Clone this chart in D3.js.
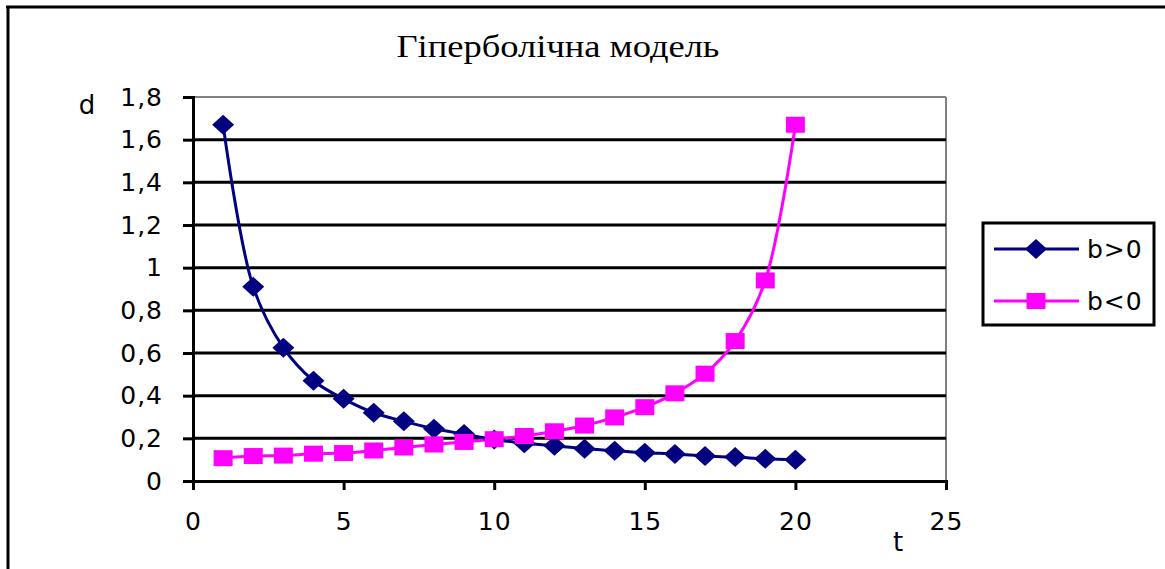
<!DOCTYPE html>
<html>
<head>
<meta charset="utf-8">
<script src="https://cdn.jsdelivr.net/npm/d3@7"></script>
<style>
  html, body { margin: 0; padding: 0; background: #fff; }
  svg { display: block; }
</style>
</head>
<body>
<script>
// Time steps and the two hyperbolic series
const tValues = [1, 2, 3, 4, 5, 6, 7, 8, 9, 10, 11, 12, 13, 14, 15, 16, 17, 18, 19, 20];
const positiveB = [1.67, 0.91, 0.625, 0.47, 0.385, 0.32, 0.28, 0.245, 0.22, 0.195,
                   0.177, 0.165, 0.151, 0.142, 0.132, 0.127, 0.117, 0.112, 0.104, 0.1];
const negativeB = [0.107, 0.117, 0.119, 0.128, 0.131, 0.143, 0.157, 0.171, 0.183, 0.196,
                   0.211, 0.233, 0.26, 0.298, 0.346, 0.411, 0.503, 0.656, 0.94, 1.67];
const seriesNames = ["b>0", "b<0"];
const xTicks = [0, 5, 10, 15, 20, 25];
const yTicks = [0, 0.2, 0.4, 0.6, 0.8, 1, 1.2, 1.4, 1.6, 1.8];
const chartTitle = "Гіперболічна модель";

const W = 1165, H = 569;
const svg = d3.select("body").append("svg").attr("width", W).attr("height", H);

const plot = { left: 193, right: 946, top: 97, bottom: 481 };
const x = d3.scaleLinear().domain([0, 25]).range([plot.left, plot.right]);
const y = d3.scaleLinear().domain([0, 1.8]).range([plot.bottom, plot.top]);
const fmt = v => String(v).replace(".", ",");
const labelFont = "DejaVu Sans, sans-serif";

// Outer frame (left and top edges)
svg.append("line").attr("x1", 8).attr("x2", 8).attr("y1", 6).attr("y2", H)
  .attr("stroke", "#000").attr("stroke-width", 3);
svg.append("line").attr("x1", 6).attr("x2", W).attr("y1", 7).attr("y2", 7)
  .attr("stroke", "#000").attr("stroke-width", 3);

// Title
svg.append("text").attr("x", 558).attr("y", 57)
  .attr("text-anchor", "middle")
  .attr("font-family", "Liberation Serif, serif").attr("font-size", 32)
  .attr("textLength", 323).attr("lengthAdjust", "spacingAndGlyphs")
  .text(chartTitle);

// Plot-area border: grey top and right edges
svg.append("line").attr("x1", plot.left).attr("x2", plot.right)
  .attr("y1", plot.top).attr("y2", plot.top).attr("stroke", "#808080").attr("stroke-width", 2);
svg.append("line").attr("x1", plot.right).attr("x2", plot.right)
  .attr("y1", plot.top).attr("y2", plot.bottom).attr("stroke", "#808080").attr("stroke-width", 2);

// Horizontal gridlines
svg.append("g").selectAll("line")
  .data(yTicks.filter(v => v > 0 && v < 1.8))
  .join("line")
  .attr("x1", plot.left).attr("x2", plot.right)
  .attr("y1", d => y(d)).attr("y2", d => y(d))
  .attr("stroke", "#000").attr("stroke-width", 3);

// Y axis
const yAxis = svg.append("g").attr("transform", `translate(${plot.left},0)`)
  .call(d3.axisLeft(y).tickValues(yTicks).tickFormat(fmt).tickSize(10).tickPadding(20));
yAxis.select(".domain").attr("stroke", "#000").attr("stroke-width", 3);
yAxis.selectAll(".tick line").attr("stroke", "#000").attr("stroke-width", 3);
yAxis.selectAll(".tick text").attr("font-family", labelFont).attr("font-size", 25)
  .attr("letter-spacing", 1).attr("fill", "#000");

// X axis
const xAxis = svg.append("g").attr("transform", `translate(0,${plot.bottom})`)
  .call(d3.axisBottom(x).tickValues(xTicks).tickFormat(d3.format("d")).tickSize(9).tickPadding(22));
xAxis.select(".domain").attr("stroke", "#000").attr("stroke-width", 3);
xAxis.selectAll(".tick line").attr("stroke", "#000").attr("stroke-width", 3);
xAxis.selectAll(".tick text").attr("font-family", labelFont).attr("font-size", 25)
  .attr("letter-spacing", 1).attr("fill", "#000");

// Axis titles
svg.append("text").attr("x", 87).attr("y", 114).attr("text-anchor", "middle")
  .attr("font-family", labelFont).attr("font-size", 26).text("d");
svg.append("text").attr("x", 898).attr("y", 551).attr("text-anchor", "middle")
  .attr("font-family", labelFont).attr("font-size", 26).text("t");

// Smoothed series lines
const line = d3.line().x(d => x(d[0])).y(d => y(d[1])).curve(d3.curveCatmullRom.alpha(0.5));
const dataPos = tValues.map((t, i) => [t, positiveB[i]]);
const dataNeg = tValues.map((t, i) => [t, negativeB[i]]);
const navy = "#000080", magenta = "#FF00FF";

svg.append("path").datum(dataPos).attr("d", line)
  .attr("fill", "none").attr("stroke", navy).attr("stroke-width", 3);
svg.append("path").datum(dataNeg).attr("d", line)
  .attr("fill", "none").attr("stroke", magenta).attr("stroke-width", 3);

// Markers
const diamond = (cx, cy) => `M${cx},${cy - 10}L${cx + 11},${cy}L${cx},${cy + 10}L${cx - 11},${cy}Z`;
svg.append("g").selectAll("path").data(dataPos).join("path")
  .attr("d", d => diamond(x(d[0]), y(d[1]))).attr("fill", navy);
svg.append("g").selectAll("rect").data(dataNeg).join("rect")
  .attr("x", d => x(d[0]) - 9.5).attr("y", d => y(d[1]) - 8)
  .attr("width", 19).attr("height", 16).attr("fill", magenta);

// Legend
const legend = svg.append("g");
legend.append("rect").attr("x", 983).attr("y", 223).attr("width", 171).attr("height", 102)
  .attr("fill", "#fff").attr("stroke", "#000").attr("stroke-width", 3);
const rows = [
  { name: seriesNames[0], color: navy, ly: 249, marker: "diamond" },
  { name: seriesNames[1], color: magenta, ly: 301, marker: "square" }
];
rows.forEach(r => {
  legend.append("line").attr("x1", 994).attr("x2", 1079).attr("y1", r.ly).attr("y2", r.ly)
    .attr("stroke", r.color).attr("stroke-width", 3);
  if (r.marker === "diamond") {
    legend.append("path").attr("d", diamond(1036, r.ly)).attr("fill", r.color);
  } else {
    legend.append("rect").attr("x", 1036 - 9.5).attr("y", r.ly - 8)
      .attr("width", 19).attr("height", 16).attr("fill", r.color);
  }
  legend.append("text").attr("x", 1087).attr("y", r.ly + 9)
    .attr("font-family", labelFont).attr("font-size", 25).attr("letter-spacing", 1)
    .text(r.name);
});
</script>
</body>
</html>
